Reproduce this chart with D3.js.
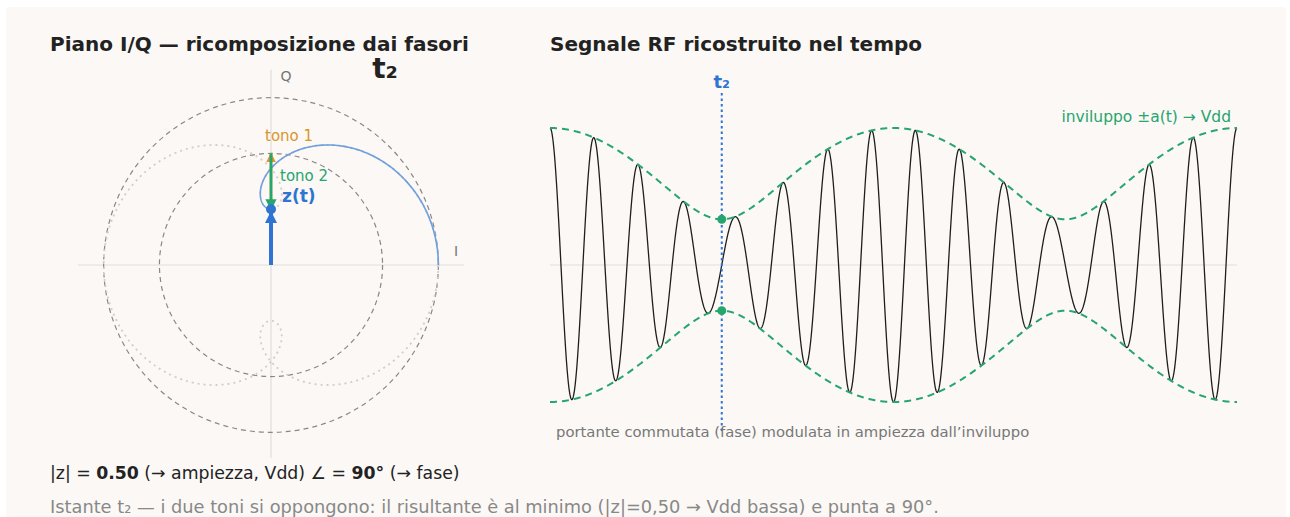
<!DOCTYPE html>
<html>
<head>
<meta charset="utf-8">
<script src="https://cdn.jsdelivr.net/npm/d3@7"></script>
<style>
  body { margin: 0; background: #ffffff; font-family: "DejaVu Sans", sans-serif; }
  svg { display: block; }
</style>
</head>
<body>
<div id="chart"></div>
<script>
// parametri del segnale a due toni
const toneNames = ["tono 1", "tono 2"];
const toneAmp = [1.0, 0.5];        // ampiezze dei due fasori
const toneTurns = [1, 3];          // giri nel piano I/Q sulla finestra
const toneColors = ["#d9962b", "#27a56e"];
const carrierCycles = 14;          // cicli di portante nella finestra
const circleRadii = [1.0, 1.5];    // cerchi tratteggiati di riferimento
const t2Frac = 0.25;               // istante t2 nella finestra
const zMag = 0.50, zDeg = 90;

const W = 1290, H = 517;
const svg = d3.select("#chart").append("svg").attr("width", W).attr("height", H);

svg.append("rect").attr("x", 6).attr("y", 7).attr("width", 1280).attr("height", 512)
  .attr("rx", 4).attr("fill", "#fbf8f5");

// ---- sinistra: piano I/Q
const cx = 271, cy = 265, R = 193;
const xI = d3.scaleLinear().domain([-1.73, 1.73]).range([cx - R, cx + R]);
const yQ = d3.scaleLinear().domain([-1.73, 1.73]).range([cy + R, cy - R]);

const gL = svg.append("g");
gL.append("line").attr("x1", xI(-1.73)).attr("x2", xI(1.73)).attr("y1", yQ(0)).attr("y2", yQ(0))
  .attr("stroke", "#e2dfdb").attr("stroke-width", 1.2);
gL.append("line").attr("x1", xI(0)).attr("x2", xI(0)).attr("y1", yQ(1.75)).attr("y2", yQ(-1.73))
  .attr("stroke", "#e2dfdb").attr("stroke-width", 1.2);
gL.append("text").attr("x", xI(0) + 15).attr("y", yQ(1.66) + 1).attr("text-anchor", "middle")
  .attr("font-size", 14).attr("fill", "#777").text("Q");
gL.append("text").attr("x", xI(1.66)).attr("y", yQ(0) - 9).attr("text-anchor", "middle")
  .attr("font-size", 14).attr("fill", "#777").text("I");

gL.selectAll("circle.ref").data(circleRadii).join("circle").attr("class", "ref")
  .attr("cx", xI(0)).attr("cy", yQ(0)).attr("r", d => xI(d) - xI(0))
  .attr("fill", "none").attr("stroke", "#8a8785").attr("stroke-width", 1.2)
  .attr("stroke-dasharray", "5,4");

function zAt(f) {
  let re = 0, im = 0;
  toneAmp.forEach((a, i) => {
    const ph = 2 * Math.PI * toneTurns[i] * f;
    re += a * Math.cos(ph); im += a * Math.sin(ph);
  });
  return [re, im];
}
const fr = d3.range(0, 1.0005, 0.001);
const iq = d3.line().x(d => xI(d[0])).y(d => yQ(d[1]));

gL.append("path").attr("d", iq(fr.map(zAt))).attr("fill", "none")
  .attr("stroke", "#d0cdca").attr("stroke-width", 1.8).attr("stroke-dasharray", "2,4");
gL.append("path").attr("d", iq(fr.filter(f => f <= t2Frac).map(zAt))).attr("fill", "none")
  .attr("stroke", "#6f9fdc").attr("stroke-width", 1.6);

// fasori all'istante t2
const defs = svg.append("defs");
function marker(id, color, size) {
  defs.append("marker").attr("id", id).attr("viewBox", "0 0 10 10").attr("refX", 9).attr("refY", 5)
    .attr("markerWidth", size).attr("markerHeight", size).attr("orient", "auto-start-reverse")
    .append("path").attr("d", "M0,0 L10,5 L0,10 z").attr("fill", color);
}
marker("m1", toneColors[0], 4); marker("m2", toneColors[1], 4); marker("mz", "#2f74d0", 3);

const p1 = [toneAmp[0] * Math.cos(2 * Math.PI * toneTurns[0] * t2Frac), toneAmp[0] * Math.sin(2 * Math.PI * toneTurns[0] * t2Frac)];
const pz = zAt(t2Frac);
gL.append("line").attr("x1", xI(0)).attr("y1", yQ(0)).attr("x2", xI(p1[0])).attr("y2", yQ(p1[1]))
  .attr("stroke", toneColors[0]).attr("stroke-width", 2.5).attr("marker-end", "url(#m1)");
gL.append("line").attr("x1", xI(p1[0])).attr("y1", yQ(p1[1])).attr("x2", xI(pz[0])).attr("y2", yQ(pz[1]))
  .attr("stroke", toneColors[1]).attr("stroke-width", 2.8).attr("marker-end", "url(#m2)");
gL.append("line").attr("x1", xI(0)).attr("y1", yQ(0)).attr("x2", xI(pz[0])).attr("y2", yQ(pz[1]) + 3)
  .attr("stroke", "#2f74d0").attr("stroke-width", 4).attr("marker-end", "url(#mz)");
gL.append("circle").attr("cx", xI(pz[0])).attr("cy", yQ(pz[1])).attr("r", 5).attr("fill", "#2f74d0");

gL.append("text").attr("x", xI(p1[0]) - 6).attr("y", yQ(p1[1]) - 12).attr("font-size", 15)
  .attr("fill", toneColors[0]).text(toneNames[0]);
gL.append("text").attr("x", xI(p1[0]) + 9).attr("y", yQ(0.75)).attr("font-size", 15)
  .attr("fill", toneColors[1]).text(toneNames[1]);
gL.append("text").attr("x", xI(pz[0]) + 11).attr("y", yQ(pz[1]) - 7).attr("font-size", 17)
  .attr("font-weight", "bold").attr("fill", "#2f74d0").text("z(t)");

svg.append("text").attr("x", 50).attr("y", 51).attr("font-size", 20).attr("font-weight", "bold")
  .attr("fill", "#222").text("Piano I/Q — ricomposizione dai fasori");
svg.append("text").attr("x", 385).attr("y", 78).attr("text-anchor", "middle").attr("font-size", 28)
  .attr("font-weight", "bold").attr("fill", "#222").text("t₂");

// ---- destra: segnale RF nel tempo
const xT = d3.scaleLinear().domain([0, 1]).range([550, 1237]);
const yS = d3.scaleLinear().domain([-1.5, 1.5]).range([402, 128]);
const gR = svg.append("g");

svg.append("text").attr("x", 550).attr("y", 51).attr("font-size", 20).attr("font-weight", "bold")
  .attr("fill", "#222").text("Segnale RF ricostruito nel tempo");

gR.append("line").attr("x1", xT(0)).attr("x2", xT(1)).attr("y1", yS(0)).attr("y2", yS(0))
  .attr("stroke", "#e2dfdb").attr("stroke-width", 1.2);

function rf(f) {
  const ph = 2 * Math.PI * carrierCycles * f;
  const z = zAt(f);
  return z[0] * Math.cos(ph) - z[1] * Math.sin(ph);
}
function env(f) { const z = zAt(f); return Math.hypot(z[0], z[1]); }
const ft = d3.range(0, 1.00005, 0.0005);

gR.append("path").attr("d", d3.line().x(f => xT(f)).y(f => yS(rf(f)))(ft))
  .attr("fill", "none").attr("stroke", "#1e1e1e").attr("stroke-width", 1.3);
[1, -1].forEach(s => {
  gR.append("path").attr("d", d3.line().x(f => xT(f)).y(f => yS(s * env(f)))(ft))
    .attr("fill", "none").attr("stroke", "#27a56e").attr("stroke-width", 2)
    .attr("stroke-dasharray", "7,5");
});

gR.append("line").attr("x1", xT(t2Frac)).attr("x2", xT(t2Frac)).attr("y1", 93).attr("y2", 432)
  .attr("stroke", "#2f74d0").attr("stroke-width", 2).attr("stroke-dasharray", "2.5,3");
gR.append("text").attr("x", xT(t2Frac)).attr("y", 88).attr("text-anchor", "middle")
  .attr("font-size", 18).attr("font-weight", "bold").attr("fill", "#2f74d0").text("t₂");
[1, -1].forEach(s => {
  gR.append("circle").attr("cx", xT(t2Frac)).attr("cy", yS(s * zMag)).attr("r", 4.5).attr("fill", "#27a56e");
});

gR.append("text").attr("x", 1231).attr("y", 122).attr("text-anchor", "end").attr("font-size", 15.5)
  .attr("fill", "#27a56e").text("inviluppo ±a(t) → Vdd");
gR.append("text").attr("x", 556).attr("y", 437).attr("font-size", 14.8)
  .attr("fill", "#777").text("portante commutata (fase) modulata in ampiezza dall’inviluppo");

// ---- didascalie in basso
const l1 = svg.append("text").attr("x", 50).attr("y", 479).attr("font-size", 17.3).attr("fill", "#222");
l1.append("tspan").text("|z| = ");
l1.append("tspan").attr("font-weight", "bold").text(zMag.toFixed(2));
l1.append("tspan").text(" (→ ampiezza, Vdd) ∠ = ");
l1.append("tspan").attr("font-weight", "bold").text(zDeg + "°");
l1.append("tspan").text(" (→ fase)");

svg.append("text").attr("x", 50).attr("y", 513).attr("font-size", 17.8).attr("fill", "#888")
  .text("Istante t₂ — i due toni si oppongono: il risultante è al minimo (|z|=0,50 → Vdd bassa) e punta a 90°.");
</script>
</body>
</html>
